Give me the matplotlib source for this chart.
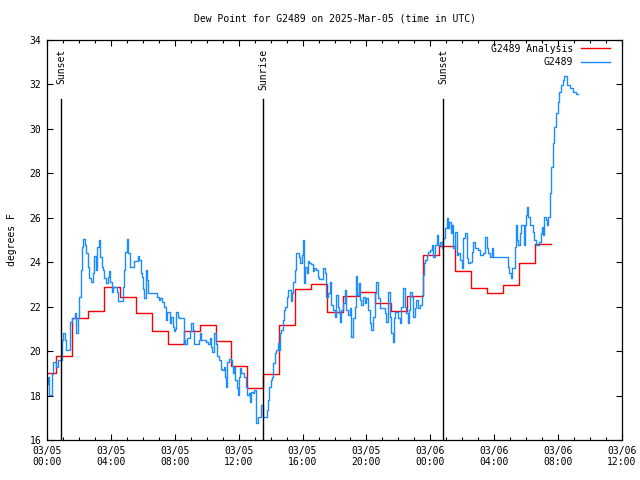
import matplotlib
matplotlib.use("Agg")
import matplotlib.pyplot as plt
from matplotlib.ticker import MultipleLocator

plt.rcParams['font.family'] = ['DejaVu Sans Mono']
plt.rcParams['font.size'] = 7

# hours since 2025-03-05 00:00 UTC
obs_hours = [0.0, 0.08, 0.19, 0.29, 0.33, 0.46, 0.61, 0.71, 0.88, 0.96, 1.09, 1.17, 1.23, 1.44, 1.50,
             1.59, 1.71, 1.75, 1.88, 1.96, 2.07, 2.17, 2.23, 2.34, 2.44, 2.50, 2.59, 2.69, 2.80, 2.90,
             3.01, 3.11, 3.21, 3.28, 3.38, 3.46, 3.55, 3.63, 3.74, 3.84, 3.94, 4.01, 4.09, 4.22, 4.32,
             4.43, 4.47, 4.68, 4.78, 4.84, 4.95, 5.03, 5.13, 5.22, 5.41, 5.51, 5.61, 5.76,
             5.80, 5.91, 6.01, 6.07, 6.12, 6.22, 6.28, 6.37, 6.85, 6.95, 7.05, 7.16, 7.26, 7.37, 7.47,
             7.58, 7.68, 7.74, 7.83, 7.89, 7.99, 8.06, 8.14, 8.24, 8.33, 8.52, 8.58, 8.62, 8.72, 8.83,
             8.93, 9.00, 9.08, 9.14, 9.25, 9.46, 9.56, 9.62, 9.71, 9.87, 10.08, 10.14, 10.25, 10.33,
             10.39, 10.50, 10.60, 10.71, 10.81, 10.92, 11.02, 11.13, 11.19, 11.23, 11.33, 11.44, 11.54,
             11.60, 11.67, 11.77, 11.83, 11.92, 11.98, 12.04, 12.13, 12.19, 12.29, 12.40, 12.50, 12.57,
             12.67, 12.75, 12.82, 12.92, 13.02, 13.09, 13.13, 13.23, 13.34, 13.44, 13.55, 13.75, 13.82,
             13.90, 13.96, 14.07, 14.13, 14.21, 14.30, 14.38, 14.49, 14.55, 14.59, 14.69, 14.80, 14.86,
             14.97, 15.05, 15.11, 15.22, 15.30, 15.38, 15.47, 15.53, 15.63, 15.74, 15.84, 15.90, 15.99,
             16.05, 16.11, 16.22, 16.30, 16.39, 16.47, 16.57, 16.68, 16.78, 16.89, 16.99, 17.09, 17.26,
             17.32, 17.43, 17.53, 17.64, 17.74, 17.80, 17.89, 17.95, 18.05, 18.16, 18.26, 18.33, 18.37,
             18.47, 18.58, 18.68, 18.78, 18.89, 18.99, 19.10, 19.20, 19.31, 19.37, 19.45, 19.56, 19.62,
             19.72, 19.83, 19.93, 20.04, 20.14, 20.25, 20.35, 20.46, 20.56, 20.66, 20.77, 20.87, 20.98,
             21.08, 21.19, 21.29, 21.39, 21.50, 21.60, 21.67, 21.75, 21.81, 21.92, 22.02, 22.12, 22.23,
             22.33, 22.44, 22.54, 22.65, 22.71, 22.79, 22.86, 22.96, 23.06, 23.17,
             23.29, 23.40, 23.50, 23.56, 23.65, 23.71, 23.82, 23.92, 24.02, 24.13, 24.23, 24.34, 24.44,
             24.55, 24.65, 24.75, 24.86, 24.96, 25.07, 25.13, 25.23, 25.32, 25.40, 25.49, 25.59, 25.69,
             25.80, 25.90, 26.01, 26.11, 26.22, 26.32, 26.42, 26.53, 26.63, 26.74, 26.84, 26.95, 27.05,
             27.16, 27.26, 27.36, 27.47, 27.57, 27.68, 27.78, 27.89, 27.99, 28.82,
             28.89, 28.99, 29.05, 29.14, 29.26, 29.35, 29.41, 29.47, 29.56, 29.62, 29.68, 29.83, 29.89,
             29.97, 30.04, 30.10, 30.18, 30.27, 30.39, 30.47, 30.56, 30.66, 30.77, 30.87, 30.97, 31.04,
             31.10, 31.18, 31.29, 31.35, 31.43, 31.52, 31.60, 31.71, 31.77, 31.91, 32.02, 32.12, 32.23,
             32.33, 32.46, 32.64, 32.85, 33.06, 33.23]
obs_dewpt = [18.5, 18.85, 18.02, 18.02, 18.99, 19.52, 19.3, 19.6, 19.6, 20.5, 20.8, 20.5, 20.05, 20.05, 21.32,
             21.47, 21.47, 21.7, 20.8, 21.47, 22.45, 23.65, 24.7, 25.03, 24.78, 24.4, 23.8, 23.3, 23.1, 23.5,
             24.3, 23.65, 24.7, 25.0, 24.25, 23.8, 23.65, 23.3, 23.05, 23.35, 23.6, 23.1, 22.68, 22.9, 22.9,
             22.68, 22.27, 22.27, 22.9, 23.65, 24.47, 25.03, 24.4, 23.8, 23.8, 24.05, 24.05, 24.3,
             24.1, 23.5, 23.35, 22.8, 22.4, 23.65, 23.2, 22.6, 22.6, 22.45, 22.3, 22.38, 22.22, 21.99, 21.4,
             21.77, 21.77, 21.25, 21.55, 21.1, 20.9, 21.0, 21.77, 21.55, 21.5, 21.5, 20.3, 20.5, 20.3, 20.6,
             20.6, 20.9, 21.25, 20.95, 20.3, 20.3, 20.5, 20.8, 20.5, 20.5, 20.4, 20.3, 20.6, 20.2,
             19.95, 20.8, 20.3, 19.8, 19.6, 19.2, 19.15, 19.3, 18.85, 18.4, 19.5, 19.65, 19.6,
             19.35, 19.0, 19.3, 18.7, 18.33, 18.03, 18.85, 19.22, 19.0, 19.0, 18.85, 18.4, 18.03,
             18.1, 17.73, 18.18, 18.1, 18.25, 17.35, 16.75, 17.05, 17.05, 17.58, 17.05, 17.05, 17.35,
             17.8, 18.4, 18.7, 18.85, 19.45, 19.9, 20.05, 20.35, 20.05, 20.8, 20.95, 21.4, 21.85,
             22.0, 22.45, 22.75, 22.75, 22.25, 22.6, 23.1, 23.65, 24.4, 24.4, 24.25, 23.95, 24.33,
             25.0, 23.05, 23.8, 23.5, 24.05, 23.95, 23.9, 23.6, 23.75, 23.65, 23.35, 23.25, 23.25,
             23.73, 23.5, 22.45, 22.6, 23.1, 22.07, 22.07, 21.85, 21.55, 22.53, 22.0, 21.7, 21.33,
             21.85, 22.15, 22.75, 21.85, 21.62, 21.92, 20.65, 21.47, 22.0, 23.4, 22.53, 23.05, 22.3,
             22.07, 22.45, 22.15, 22.38, 21.85, 21.25, 20.95, 21.55, 22.6, 23.1, 22.38, 21.92, 21.92,
             21.92, 21.7, 21.33, 22.68, 21.55, 20.8, 20.4, 21.47, 21.77, 21.77, 21.47, 21.25, 22.0,
             22.83, 22.0, 21.7, 21.25, 21.85, 22.68, 22.45, 21.55, 21.92, 22.3,
             21.92, 22.07, 22.53, 23.42, 23.95, 24.1, 24.33, 24.48, 24.55, 24.78, 24.25, 24.78, 25.23,
             24.78, 24.93, 24.63, 25.08, 25.53, 25.98, 25.53, 25.83, 25.3, 25.68, 24.63, 25.38, 24.33,
             24.4, 24.1, 23.72, 25.08, 25.3, 24.18, 23.95, 24.0, 24.48, 24.93, 24.63, 24.63, 24.55,
             24.33, 24.33, 24.4, 25.15, 24.63, 24.4, 24.25, 24.63, 24.25, 24.25,
             23.8, 23.5, 23.28, 23.73, 23.73, 24.7, 25.68, 25.0, 24.78, 25.3, 25.68, 25.68, 24.78,
             25.68, 26.13, 26.5, 26.05, 25.68, 25.68, 25.38, 25.0, 24.78, 24.78, 24.93, 25.3, 25.6,
             25.23, 26.05, 25.9, 25.68, 26.05, 27.1, 28.3, 29.35, 30.1, 30.7, 31.23, 31.68, 31.98,
             32.2, 32.38, 31.98, 31.83, 31.68, 31.56]

# hourly analysis, each value holds from its start time
ana_hours = [0.0, 0.55, 1.55, 2.55, 3.55, 4.55, 5.55, 6.55, 7.55, 8.55, 9.55, 10.55, 11.55, 12.55,
             13.55, 14.55, 15.55, 16.55, 17.55, 18.55, 19.55, 20.55, 21.55, 22.55, 23.55, 24.55,
             25.55, 26.55, 27.55, 28.55, 29.55, 30.55, 31.55]
ana_dewpt = [19.0, 19.8, 21.5, 21.8, 22.87, 22.42, 21.7, 20.9, 20.3, 20.9, 21.16, 20.45, 19.33, 18.33,
             18.96, 21.16, 22.8, 23.02, 21.75, 22.47, 22.66, 22.15, 21.8, 22.5, 24.31, 24.73,
             23.6, 22.82, 22.6, 22.96, 23.95, 24.82, 24.82]

sun_hours = [0.88, 13.52, 24.8]
sun_names = ['Sunset', 'Sunrise', 'Sunset']

tick_hours = [0, 4, 8, 12, 16, 20, 24, 28, 32, 36]
tick_labels = ['03/05\n00:00', '03/05\n04:00', '03/05\n08:00', '03/05\n12:00', '03/05\n16:00',
               '03/05\n20:00', '03/06\n00:00', '03/06\n04:00', '03/06\n08:00', '03/06\n12:00']

fig = plt.figure(figsize=(6.4, 4.8), dpi=100)
ax = fig.add_axes([47 / 640, 40 / 480, 575 / 640, 400 / 480])

ax.step(ana_hours, ana_dewpt, where='post', color='#ff0000', lw=1.0, label='G2489 Analysis')
ax.plot(obs_hours, obs_dewpt, color='#1a8cff', lw=1.0, drawstyle='steps-mid', label='G2489')

for h, name in zip(sun_hours, sun_names):
    ax.plot([h, h], [16, 31.35], color='black', lw=1.0)
    ax.text(h, 33.6, name, rotation=90, ha='center', va='top', fontsize=7)

ax.set_xlim(0, 36)
ax.set_ylim(16, 34)
ax.set_xticks(tick_hours)
ax.set_xticklabels(tick_labels)
ax.xaxis.set_minor_locator(MultipleLocator(1))
ax.set_yticks(range(16, 35, 2))
ax.tick_params(which='both', direction='in', top=True, right=True, pad=4, labelsize=7)
ax.tick_params(which='major', length=4, width=0.8)
ax.tick_params(which='minor', length=2, width=0.8)
for s in ax.spines.values():
    s.set_linewidth(0.9)

ax.set_ylabel('degrees F', fontsize=7, labelpad=9)
ax.set_title('Dew Point for G2489 on 2025-Mar-05 (time in UTC)', fontsize=7, pad=13)

ax.legend(loc='upper right', bbox_to_anchor=(1 - 5 / 575, 1 + 3 / 400), frameon=False,
          markerfirst=False, fontsize=7, handlelength=3.0, borderaxespad=0.3,
          labelspacing=0.35, handletextpad=0.8)

fig.savefig('out.png', dpi=100)
